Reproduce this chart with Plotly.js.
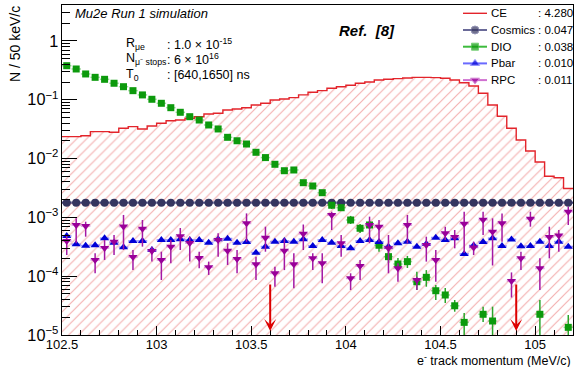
<!DOCTYPE html>
<html>
<head>
<meta charset="utf-8">
<script src="https://cdn.plot.ly/plotly-3.0.1.min.js"></script>
<style>html,body{margin:0;padding:0;background:#fff;}#chart{width:576px;height:367px;}</style>
</head>
<body>
<div id="chart"></div>
<script>
// ---------------- data ----------------
const binStart = 102.5;      // MeV/c
const binWidth = 0.05;       // 50 keV/c
const nBins = 54;

const ceCounts = [0.0236,0.0236,0.0245,0.0287,0.0287,0.0280,0.0328,0.0349,0.0319,0.0358,
  0.0398,0.0441,0.0453,0.0485,0.0516,0.0574,0.0589,0.0671,0.0698,0.0734,
  0.0816,0.0872,0.0993,0.103,0.109,0.121,0.134,0.143,0.157,0.167,
  0.177,0.191,0.201,0.217,0.223,0.229,0.235,0.241,0.241,0.238,
  0.232,0.217,0.195,0.172,0.129,0.0816,0.0524,0.0328,0.0207,0.0135,
  0.00875,0.00500,0.00473,0.00310];

const cosmicsCounts = [1.78e-3,1.78e-3,1.78e-3,1.78e-3,1.78e-3,1.78e-3,1.78e-3,1.78e-3,1.78e-3,1.78e-3,
  1.78e-3,1.78e-3,1.78e-3,1.78e-3,1.78e-3,1.78e-3,1.78e-3,1.78e-3,1.78e-3,1.78e-3,
  1.78e-3,1.78e-3,1.78e-3,1.78e-3,1.78e-3,1.78e-3,1.78e-3,1.78e-3,1.78e-3,1.78e-3,
  1.78e-3,1.78e-3,1.78e-3,1.78e-3,1.78e-3,1.78e-3,1.78e-3,1.78e-3,1.78e-3,1.78e-3,
  1.78e-3,1.78e-3,1.78e-3,1.78e-3,1.78e-3,1.78e-3,1.78e-3,1.78e-3,1.78e-3,1.78e-3,
  1.78e-3,1.78e-3,1.78e-3,1.78e-3];

const dioCounts = [0.380,0.334,0.275,0.241,0.223,0.191,0.167,0.143,0.121,0.102,
  0.0872,0.0734,0.0613,0.0516,0.0453,0.0373,0.0319,0.0230,0.0201,0.0177,
  0.0128,0.0104,0.0080,0.00622,0.00640,0.00389,0.00342,0.00263,0.00161,0.00146,
  0.000903,0.000653,0.000743,0.000336,0.000215,0.000161,0.000177,8.05e-5,9.57e-5,5.66e-5,
  4.79e-5,3.14e-5,1.64e-5,null,2.25e-5,1.73e-5,null,null,null,null,
  2.25e-5,null,null,1.35e-5];
const dioHigh = [null,null,null,null,null,null,null,null,null,null,
  null,null,null,null,null,null,null,null,null,null,
  null,null,null,null,null,null,null,null,1.83e-3,1.66e-3,
  1.06e-3,7.72e-4,8.69e-4,4.13e-4,2.68e-4,2.04e-4,2.21e-4,1.19e-4,1.27e-4,7.08e-5,
  6.30e-5,3.94e-5,2.37e-5,null,3.03e-5,3.03e-5,null,null,null,null,
  3.94e-5,null,null,2.19e-5];
const dioLow = [null,null,null,null,null,null,null,null,null,null,
  null,null,null,null,null,null,null,null,null,null,
  null,null,null,null,null,null,null,null,1.39e-3,1.29e-3,
  7.72e-4,5.43e-4,6.35e-4,2.61e-4,1.68e-4,1.23e-4,1.38e-4,5.82e-5,6.63e-5,3.94e-5,
  3.50e-5,2.49e-5,1e-7,null,1.66e-5,1e-7,null,null,null,null,
  1e-7,null,null,1e-7];

const pbarCounts = [4.83e-4,3.49e-4,3.30e-4,3.36e-4,4.41e-4,3.71e-4,3.10e-4,3.97e-4,3.97e-4,2.79e-4,
  4.13e-4,4.13e-4,4.25e-4,4.13e-4,4.13e-4,3.71e-4,4.25e-4,4.35e-4,3.71e-4,3.82e-4,
  2.51e-4,3.18e-4,3.86e-4,3.97e-4,3.86e-4,4.25e-4,3.26e-4,4.13e-4,3.71e-4,3.26e-4,
  2.98e-4,3.97e-4,4.13e-4,3.82e-4,3.18e-4,3.63e-4,3.86e-4,3.18e-4,3.53e-4,4.52e-4,
  4.13e-4,4.41e-4,2.39e-4,3.32e-4,3.82e-4,4.41e-4,3.26e-4,4.22e-4,3.22e-4,3.26e-4,
  3.86e-4,3.26e-4,3.86e-4,3.18e-4];

const rpcCounts = [3.97e-4,7.43e-4,7.14e-4,1.89e-4,3.02e-4,3.86e-4,7.00e-4,2.12e-4,6.40e-4,2.68e-4,
  1.89e-4,3.18e-4,4.77e-4,3.67e-4,2.04e-4,1.42e-4,4.13e-4,2.72e-4,1.96e-4,7.94e-4,
  1.59e-4,4.52e-4,1.12e-4,2.72e-4,1.59e-4,5.28e-4,2.01e-4,1.66e-4,1.10e-3,3.63e-4,
  9.21e-5,1.49e-4,7.43e-4,6.95e-4,2.98e-4,1.36e-4,7.43e-4,8.61e-5,3.40e-4,1.89e-4,
  5.37e-4,4.64e-4,7.82e-4,3.08e-4,9.14e-4,5.71e-4,7.94e-4,8.28e-5,2.01e-4,9.46e-4,
  1.36e-4,4.64e-4,4.92e-4,1.25e-3];
const rpcHigh = [5.02e-4,9.65e-4,8.45e-4,2.45e-4,4.13e-4,5.02e-4,1.10e-3,2.79e-4,9.03e-4,3.18e-4,
  2.61e-4,4.13e-4,6.61e-4,4.70e-4,2.61e-4,1.77e-4,5.37e-4,3.63e-4,2.79e-4,1.17e-3,
  2.15e-4,6.95e-4,1.45e-4,4.41e-4,2.45e-4,7.57e-4,2.45e-4,2.45e-4,1.25e-3,5.02e-4,
  1.12e-4,1.89e-4,1.03e-3,9.03e-4,5.02e-4,1.66e-4,1.10e-3,9.80e-5,4.70e-4,2.79e-4,
  6.95e-4,6.11e-4,1.25e-3,3.86e-4,1.25e-3,9.65e-4,1.17e-3,1.16e-4,2.61e-4,1.25e-3,
  2.01e-4,6.95e-4,6.11e-4,1.52e-3];
const rpcLow = [2.29e-4,3.63e-4,4.70e-4,1.12e-4,1.89e-4,2.29e-4,2.79e-4,1.27e-4,3.18e-4,1.77e-4,
  8.61e-5,1.66e-4,2.79e-4,1.77e-4,1.36e-4,1.05e-4,2.15e-4,1.55e-4,1.12e-4,3.86e-4,
  8.61e-5,2.61e-4,6.63e-5,1.27e-4,6.22e-5,2.79e-4,1.27e-4,7.57e-5,6.11e-4,2.15e-4,
  5.82e-5,8.61e-5,3.63e-4,3.86e-4,1.12e-4,8.05e-5,3.63e-4,5.82e-5,1.77e-4,8.05e-5,
  4.13e-4,2.98e-4,2.48e-4,2.29e-4,5.02e-4,1.52e-4,3.86e-4,4.34e-5,1.27e-4,6.95e-4,
  5.82e-5,2.01e-4,2.61e-4,7.43e-4];

const seriesNames = ['CE','Cosmics','DIO','Pbar','RPC'];
const seriesYields = [': 4.280',': 0.047',': 0.038',': 0.010',': 0.011'];

const windowEdges = [103.6, 104.9];        // signal window arrows (MeV/c)
const arrowSpan = [7.66e-5, 1.17e-5];      // arrow tail / head (N)

const infoLabels = ['R<sub>μe</sub>', 'N<sub>μ⁻ stops</sub>', 'T<sub>0</sub>'];
const infoValues = [': 1.0 × 10<sup>-15</sup>', ': 6 × 10<sup>16</sup>', ': [640,1650] ns'];

// ---------------- derived ----------------
const edges = [], centers = [];
for (let k = 0; k <= nBins; k++) edges.push(+(binStart + binWidth * k).toFixed(4));
for (let k = 0; k < nBins; k++) centers.push(+(binStart + binWidth * (k + 0.5)).toFixed(4));
const ceStep = ceCounts.concat([ceCounts[ceCounts.length - 1]]);

function errs(val, hi, lo) {
  return {
    plus: val.map((v, i) => (v == null || hi[i] == null) ? 0 : hi[i] - v),
    minus: val.map((v, i) => (v == null || lo[i] == null) ? 0 : v - lo[i])
  };
}
const dioE = errs(dioCounts, dioHigh, dioLow);
const rpcE = errs(rpcCounts, rpcHigh, rpcLow);

// ---------------- geometry helpers (pixels -> paper) ----------------
const W = 576, H = 367, M = {l: 62, r: 3, t: 5, b: 32};
const PW = W - M.l - M.r, PH = H - M.t - M.b;
const px = p => (p - M.l) / PW;
const py = p => (H - M.b - p) / PH;
const FONT = 'Liberation Sans, Arial, Helvetica, sans-serif';

const colors = {
  CE: '#e3242b', cos: '#35355f', cosBar: '#45457a', dio: '#0c9a0c', dioBar: '#2aa52a',
  pbar: '#0000d6', pbarBar: 'rgba(70,70,255,0.55)', rpc: '#990099', rpcBar: '#a418a4', rpcXBar: 'rgba(200,90,200,0.55)'
};

const traces = [
  { // CE hatched area + step line
    x: edges, y: ceStep, type: 'scatter', mode: 'lines',
    line: {shape: 'hv', color: colors.CE, width: 1.4},
    fill: 'tozeroy', fillcolor: 'rgba(0,0,0,0)',
    fillpattern: {shape: '/', fgcolor: 'rgba(236,130,130,0.62)', bgcolor: 'rgba(0,0,0,0)', size: 7, solidity: 0.17},
    showlegend: false, hoverinfo: 'skip'
  },
  { // Cosmics
    x: centers, y: cosmicsCounts, type: 'scatter', mode: 'markers',
    marker: {symbol: 'circle', size: 8, color: colors.cos},
    error_x: {type: 'constant', value: binWidth / 2, width: 0, thickness: 2.2, color: colors.cosBar},
    showlegend: false
  },
  { // DIO
    x: centers, y: dioCounts, type: 'scatter', mode: 'markers',
    marker: {symbol: 'square', size: 7, color: colors.dio},
    error_y: {type: 'data', symmetric: false, array: dioE.plus, arrayminus: dioE.minus, width: 0, thickness: 1.5, color: colors.dioBar},
    error_x: {type: 'constant', value: binWidth / 2, width: 0, thickness: 1.5, color: 'rgba(40,170,40,0.45)'},
    showlegend: false
  },
  { // Pbar
    x: centers, y: pbarCounts, type: 'scatter', mode: 'markers',
    marker: {symbol: 'triangle-up', size: 8, color: colors.pbar},
    error_x: {type: 'constant', value: binWidth / 2, width: 0, thickness: 1.8, color: colors.pbarBar},
    showlegend: false
  },
  { // RPC
    x: centers, y: rpcCounts, type: 'scatter', mode: 'markers',
    marker: {symbol: 'triangle-down', size: 8, color: colors.rpc},
    error_y: {type: 'data', symmetric: false, array: rpcE.plus, arrayminus: rpcE.minus, width: 0, thickness: 1.5, color: colors.rpcBar},
    error_x: {type: 'constant', value: binWidth / 2, width: 0, thickness: 1.8, color: colors.rpcXBar},
    showlegend: false
  }
];

// ---------------- manual ROOT-style legend ----------------
const legLineX = [463, 475, 487], legTextX = 489, legValX = 536, legTop = 13.3, legStep = 16.7;
const legStyles = [
  {mode: 'lines', line: {color: colors.CE, width: 1.4}},
  {mode: 'lines+markers', line: {color: '#6a6a98', width: 2}, marker: {symbol: 'circle', size: [0, 8, 0], color: colors.cos}},
  {mode: 'lines+markers', line: {color: '#3dbb3d', width: 2}, marker: {symbol: 'square', size: [0, 7, 0], color: colors.dio}},
  {mode: 'lines+markers', line: {color: '#6a6aff', width: 2}, marker: {symbol: 'triangle-up', size: [0, 8, 0], color: colors.pbar}},
  {mode: 'lines+markers', line: {color: '#d070d0', width: 2}, marker: {symbol: 'triangle-down', size: [0, 8, 0], color: colors.rpc}}
];
const annotations = [];
seriesNames.forEach((nm, i) => {
  const yy = py(legTop + i * legStep);
  traces.push(Object.assign({
    x: legLineX.map(px), y: [yy, yy, yy], xaxis: 'x2', yaxis: 'y2', type: 'scatter',
    showlegend: false, hoverinfo: 'skip', cliponaxis: false
  }, legStyles[i]));
  annotations.push({xref: 'paper', yref: 'paper', x: px(legTextX), y: yy, xanchor: 'left', yanchor: 'middle',
    text: nm, showarrow: false, font: {family: FONT, size: 11.5, color: '#000'}});
  annotations.push({xref: 'paper', yref: 'paper', x: px(legValX), y: yy, xanchor: 'left', yanchor: 'middle',
    text: seriesYields[i], showarrow: false, font: {family: FONT, size: 11.5, color: '#000'}});
});

// texts
annotations.push({xref: 'paper', yref: 'paper', x: px(73), y: py(13), xanchor: 'left', yanchor: 'middle',
  text: '<i>Mu2e Run 1 simulation</i>', showarrow: false, font: {family: FONT, size: 13, color: '#000'}});
annotations.push({xref: 'paper', yref: 'paper', x: px(337), y: py(30), xanchor: 'left', yanchor: 'middle',
  text: '<b><i>Ref.  [8]</i></b>', showarrow: false, font: {family: FONT, size: 15, color: '#000'}});
const infoY = [44, 59, 75];
infoLabels.forEach((t, i) => {
  annotations.push({xref: 'paper', yref: 'paper', x: px(124), y: py(infoY[i]), xanchor: 'left', yanchor: 'middle',
    text: t, showarrow: false, font: {family: FONT, size: 12.5, color: '#000'}});
  annotations.push({xref: 'paper', yref: 'paper', x: px(165), y: py(infoY[i]), xanchor: 'left', yanchor: 'middle',
    text: infoValues[i], showarrow: false, font: {family: FONT, size: 12.5, color: '#000'}});
});
// axis titles (ROOT style: flush to the end of the axis)
annotations.push({xref: 'paper', yref: 'paper', x: px(15), y: py(44), xanchor: 'center', yanchor: 'middle', textangle: -90,
  text: 'N / 50 keV/c', showarrow: false, font: {family: FONT, size: 14, color: '#000'}});
annotations.push({xref: 'paper', yref: 'paper', x: px(573), y: py(360), xanchor: 'right', yanchor: 'middle',
  text: 'e<sup>-</sup> track momentum (MeV/c)', showarrow: false, font: {family: FONT, size: 12.5, color: '#000'}});
// signal window arrows
windowEdges.forEach(xv => {
  annotations.push({x: xv, y: Math.log10(arrowSpan[1]), ax: xv, ay: Math.log10(arrowSpan[0]),
    xref: 'x', yref: 'y', axref: 'x', ayref: 'y', text: '', showarrow: true,
    arrowhead: 3, arrowsize: 1, arrowwidth: 2, arrowcolor: '#dd0000', standoff: 0, startstandoff: 0});
});

const layout = {
  width: W, height: H, margin: M,
  paper_bgcolor: '#ffffff', plot_bgcolor: 'rgba(0,0,0,0)',
  font: {family: FONT, size: 13, color: '#000'},
  showlegend: false,
  xaxis: {
    range: [102.5, 105.2], tick0: 102.5, dtick: 0.5, ticks: 'inside', ticklen: 9, tickwidth: 1, tickcolor: '#000',
    minor: {dtick: 0.1, ticks: 'inside', ticklen: 5, tickcolor: '#000', showgrid: false},
    showline: true, linecolor: '#000', linewidth: 1, mirror: true, showgrid: false, zeroline: false,
    ticklabelstandoff: -3,
    tickfont: {family: FONT, size: 13, color: '#000'}
  },
  yaxis: {
    type: 'log', range: [-5, 0.612], dtick: 1, exponentformat: 'power', ticks: 'inside', ticklen: 15, tickwidth: 1, tickcolor: '#000',
    minor: {dtick: 'D1', ticks: 'inside', ticklen: 8, tickcolor: '#000', showgrid: false},
    showline: true, linecolor: '#000', linewidth: 1, mirror: true, showgrid: false, zeroline: false,
    tickfont: {family: FONT, size: 13, color: '#000'}
  },
  xaxis2: {domain: [0, 1], range: [0, 1], anchor: 'y2', visible: false, fixedrange: true},
  yaxis2: {domain: [0, 1], range: [0, 1], anchor: 'x2', visible: false, fixedrange: true},
  annotations: annotations
};

Plotly.newPlot('chart', traces, layout, {displayModeBar: false, staticPlot: true});
</script>
</body>
</html>
